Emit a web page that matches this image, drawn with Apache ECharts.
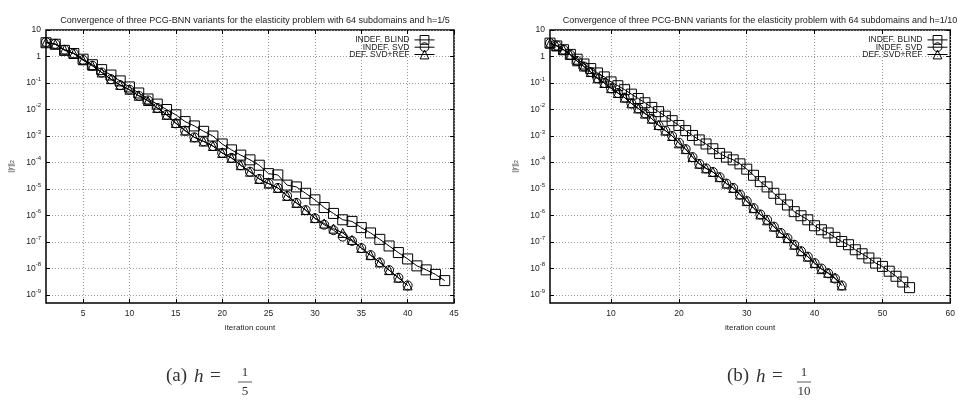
<!DOCTYPE html>
<html><head><meta charset="utf-8">
<script src="https://cdn.jsdelivr.net/npm/echarts@6/dist/echarts.min.js"></script>
<style>html,body{margin:0;padding:0;background:#fff}#c{width:958px;height:404px}</style>
</head><body><div id="c"></div>
<script>
const seriesNames = ['INDEF. BLIND', 'INDEF. SVD', 'DEF. SVD+REF'];
const titleA = 'Convergence of three PCG-BNN variants for the elasticity problem with 64 subdomains and h=1/5';
const titleB = 'Convergence of three PCG-BNN variants for the elasticity problem with 64 subdomains and h=1/10';
const xName = 'iteration count';
const xTicksA = [5, 10, 15, 20, 25, 30, 35, 40, 45];
const xTicksB = [10, 20, 30, 40, 50, 60];
const yTicks = [1e-9, 1e-8, 1e-7, 1e-6, 1e-5, 1e-4, 1e-3, 1e-2, 1e-1, 1, 10];

const blindA = [3.3, 2.9, 1.7, 1.3, 7.9e-1, 4.9e-1, 3.2e-1, 2.0e-1, 1.2e-1, 7.1e-2,
  4.2e-2, 2.5e-2, 1.6e-2, 1.0e-2, 6.3e-3, 3.5e-3, 2.4e-3, 1.5e-3, 1.0e-3, 5.0e-4,
  3.0e-4, 1.9e-4, 1.26e-4, 7.9e-5, 3.8e-5, 3.4e-5, 1.4e-5, 1.2e-5, 6.9e-6, 3.9e-6,
  2.0e-6, 1.2e-6, 6.9e-7, 6.0e-7, 3.5e-7, 2.2e-7, 1.26e-7, 7.1e-8, 4.0e-8, 2.3e-8,
  1.26e-8, 8.9e-9, 6.0e-9, 3.5e-9];
const svdA = [3.5, 3.0, 1.8, 1.3, 7.4e-1, 4.5e-1, 2.5e-1, 1.4e-1, 8.3e-2, 5.6e-2,
  3.3e-2, 2.2e-2, 1.15e-2, 6.3e-3, 3.0e-3, 1.6e-3, 8.9e-4, 6.3e-4, 4.2e-4, 2.3e-4,
  1.5e-4, 7.9e-5, 4.5e-5, 2.4e-5, 1.6e-5, 1.1e-5, 5.5e-6, 3.0e-6, 1.6e-6, 7.9e-7,
  4.5e-7, 2.8e-7, 1.6e-7, 1.1e-7, 5.9e-8, 3.2e-8, 1.7e-8, 8.7e-9, 4.5e-9, 2.3e-9];
const refA = [3.4, 2.9, 1.8, 1.3, 7.2e-1, 4.5e-1, 2.5e-1, 1.4e-1, 8.5e-2, 5.6e-2,
  3.3e-2, 2.1e-2, 1.15e-2, 6.3e-3, 3.1e-3, 1.6e-3, 8.9e-4, 6.2e-4, 4.2e-4, 2.3e-4,
  1.5e-4, 7.9e-5, 4.5e-5, 2.4e-5, 1.6e-5, 1.1e-5, 5.5e-6, 3.0e-6, 1.6e-6, 8.0e-7,
  5.0e-7, 3.2e-7, 2.2e-7, 1.2e-7, 6.0e-8, 3.2e-8, 1.7e-8, 8.7e-9, 4.5e-9, 2.3e-9];

const blindB = [3.2, 2.5, 1.8, 1.2, 7.9e-1, 5.2e-1, 3.5e-1, 2.4e-1, 1.7e-1, 1.1e-1,
  7.9e-2, 5.6e-2, 3.8e-2, 2.6e-2, 1.8e-2, 1.2e-2, 8.3e-3, 5.6e-3, 3.8e-3, 2.5e-3,
  1.6e-3, 1.05e-3, 7.1e-4, 5.0e-4, 3.3e-4, 2.2e-4, 1.6e-4, 1.26e-4, 8.9e-5, 5.6e-5,
  3.3e-5, 1.9e-5, 1.2e-5, 6.9e-6, 4.1e-6, 2.5e-6, 1.4e-6, 9.8e-7, 6.9e-7, 4.1e-7,
  2.9e-7, 2.2e-7, 1.5e-7, 1.05e-7, 7.9e-8, 5.1e-8, 3.6e-8, 2.5e-8, 1.6e-8, 1.2e-8,
  7.9e-9, 5.1e-9, 3.1e-9, 1.9e-9];
const svdB = [3.2, 2.6, 1.8, 1.15, 6.8e-1, 4.2e-1, 2.6e-1, 1.5e-1, 1.0e-1, 6.3e-2,
  4.2e-2, 2.8e-2, 1.7e-2, 1.1e-2, 7.2e-3, 4.5e-3, 2.5e-3, 1.6e-3, 1.0e-3, 5.6e-4,
  3.2e-4, 1.6e-4, 8.9e-5, 6.0e-5, 4.4e-5, 2.8e-5, 1.6e-5, 1.1e-5, 6.2e-6, 3.5e-6,
  1.9e-6, 1.1e-6, 6.9e-7, 3.8e-7, 2.2e-7, 1.4e-7, 7.9e-8, 4.5e-8, 2.8e-8, 1.6e-8,
  1.0e-8, 6.6e-9, 4.2e-9, 2.3e-9];
const refB = [3.1, 2.5, 1.8, 1.15, 6.6e-1, 4.2e-1, 2.6e-1, 1.5e-1, 1.0e-1, 6.4e-2,
  4.2e-2, 2.8e-2, 1.7e-2, 1.1e-2, 7.0e-3, 4.5e-3, 2.6e-3, 1.6e-3, 1.0e-3, 5.3e-4,
  3.2e-4, 1.6e-4, 9.0e-5, 6.0e-5, 4.4e-5, 2.8e-5, 1.6e-5, 1.1e-5, 6.2e-6, 3.5e-6,
  1.9e-6, 1.1e-6, 6.6e-7, 3.8e-7, 2.2e-7, 1.4e-7, 7.9e-8, 4.5e-8, 2.8e-8, 1.6e-8,
  9.5e-9, 6.9e-9, 4.5e-9, 2.3e-9];

const FONT = '"Liberation Sans", Arial, sans-serif';
const SERIF = '"Liberation Serif", "DejaVu Serif", serif';
const TXT = '#222';
const symbols = ['rect', 'circle', 'triangle'];
const symSizes = [10, 9, 9];

function toPairs(arr) { return arr.map((v, i) => [i + 1, v]); }

function yLabel(v) {
  const e = Math.round(Math.log10(v));
  if (e === 1) return '{b|10}';
  if (e === 0) return '{b|1}';
  return '{b|10}{sup|' + e + '}';
}

const gridLine = { show: true, lineStyle: { color: '#999', width: 1, type: [1, 2] } };

function mainX(ticks, max, gi) {
  return {
    type: 'value', gridIndex: gi, min: 1, max: max,
    name: xName, nameLocation: 'middle', nameGap: 21,
    nameTextStyle: { fontSize: 8, color: TXT, fontFamily: FONT },
    axisLine: { show: false },
    axisTick: { show: true, inside: true, length: 4, customValues: ticks, lineStyle: { color: '#000' } },
    axisLabel: { customValues: ticks, fontSize: 8.5, color: TXT, margin: 6, fontFamily: FONT },
    splitLine: Object.assign({ customValues: ticks }, gridLine)
  };
}
function mirrorX(ticks, max, gi) {
  return {
    type: 'value', gridIndex: gi, min: 1, max: max, position: 'top',
    axisLine: { show: false },
    axisTick: { show: true, inside: true, length: 4, customValues: ticks, lineStyle: { color: '#000' } },
    axisLabel: { show: false }, splitLine: { show: false }
  };
}
function mainY(gi) {
  return {
    type: 'log', logBase: 10, gridIndex: gi, min: 5e-10, max: 10,
    name: '||r||{sub|2}', nameLocation: 'middle', nameGap: 31, nameRotate: 90,
    nameTextStyle: { fontSize: 7, color: TXT, fontFamily: FONT,
      rich: { sub: { fontSize: 5, verticalAlign: 'bottom', lineHeight: 5, padding: [4, 0, 0, 0] } } },
    axisLine: { show: false },
    axisTick: { show: true, inside: true, length: 4, customValues: yTicks, lineStyle: { color: '#000' } },
    axisLabel: {
      customValues: yTicks, formatter: yLabel, margin: 5, color: TXT,
      rich: {
        b: { fontSize: 8.5, lineHeight: 14, fontFamily: FONT, color: TXT },
        sup: { fontSize: 6, lineHeight: 8, verticalAlign: 'top', fontFamily: FONT, color: TXT }
      }
    },
    splitLine: Object.assign({ customValues: yTicks }, gridLine)
  };
}
function mirrorY(gi) {
  return {
    type: 'log', logBase: 10, gridIndex: gi, min: 5e-10, max: 10, position: 'right',
    axisLine: { show: false },
    axisTick: { show: true, inside: true, length: 4, customValues: yTicks, lineStyle: { color: '#000' } },
    axisLabel: { show: false }, splitLine: { show: false }
  };
}

function makeSeries(arrs, xi, yi) {
  return arrs.map((arr, k) => ({
    type: 'line', name: seriesNames[k], xAxisIndex: xi, yAxisIndex: yi,
    data: toPairs(arr), symbol: symbols[k], symbolSize: symSizes[k],
    showAllSymbol: true, clip: false,
    lineStyle: { color: '#000', width: 1 },
    itemStyle: { color: 'rgba(0,0,0,0)', borderColor: '#000', borderWidth: 1 },
    emphasis: { disabled: true }
  }));
}

function legendFor(right) {
  return {
    data: seriesNames, orient: 'vertical', align: 'right', right: right, top: 35,
    padding: 0, itemWidth: 20, itemHeight: 11, itemGap: -2.5,
    selectedMode: false,
    itemStyle: { borderWidth: 1, borderColor: '#000', color: 'rgba(0,0,0,0)' },
    lineStyle: { width: 1, color: '#000' },
    textStyle: { fontSize: 8.5, color: TXT, fontFamily: FONT }
  };
}

function caption(x0, letter, num, den, hx, eqx, fx) {
  const f = '19px ' + SERIF;
  return [
    { type: 'text', left: x0, top: 367, style: { text: '(' + letter + ')', font: f, fill: '#333' } },
    { type: 'text', left: hx, top: 367, style: { text: 'h', font: 'italic ' + f, fill: '#333' } },
    { type: 'text', left: eqx, top: 367, style: { text: '=', font: f, fill: '#333' } },
    { type: 'text', x: fx, y: 373, style: { text: num, font: '13px ' + SERIF, fill: '#333', align: 'center', verticalAlign: 'middle' } },
    { type: 'line', shape: { x1: fx - 7, y1: 382, x2: fx + 7, y2: 382 }, style: { stroke: '#333', lineWidth: 0.8 } },
    { type: 'text', x: fx, y: 392, style: { text: den, font: '13px ' + SERIF, fill: '#333', align: 'center', verticalAlign: 'middle' } }
  ];
}

const chart = echarts.init(document.getElementById('c'), null, { renderer: 'canvas' });
chart.setOption({
  animation: false,
  backgroundColor: '#fff',
  textStyle: { fontFamily: FONT },
  title: [
    { text: titleA, left: 250, top: 11, textAlign: 'center', textStyle: { fontSize: 9, fontWeight: 'normal', color: TXT, fontFamily: FONT } },
    { text: titleB, left: 755, top: 11, textAlign: 'center', textStyle: { fontSize: 9, fontWeight: 'normal', color: TXT, fontFamily: FONT } }
  ],
  grid: [
    { left: 46, top: 30, width: 408, height: 273, show: true, borderColor: '#000', borderWidth: 1.5, backgroundColor: 'transparent' },
    { left: 550, top: 30, width: 410, height: 273, show: true, borderColor: '#000', borderWidth: 1.5, backgroundColor: 'transparent' }
  ],
  xAxis: [mainX(xTicksA, 45, 0), mirrorX(xTicksA, 45, 0), mainX(xTicksB, 60, 1), mirrorX(xTicksB, 60, 1)],
  yAxis: [mainY(0), mirrorY(0), mainY(1), mirrorY(1)],
  legend: [legendFor(958 - 435), legendFor(958 - 948)],
  series: makeSeries([blindA, svdA, refA], 0, 0).concat(makeSeries([blindB, svdB, refB], 2, 2)),
  graphic: caption(166, 'a', '1', '5', 194, 210, 245).concat(caption(727, 'b', '1', '10', 756, 772, 804))
});
</script>
</body></html>
